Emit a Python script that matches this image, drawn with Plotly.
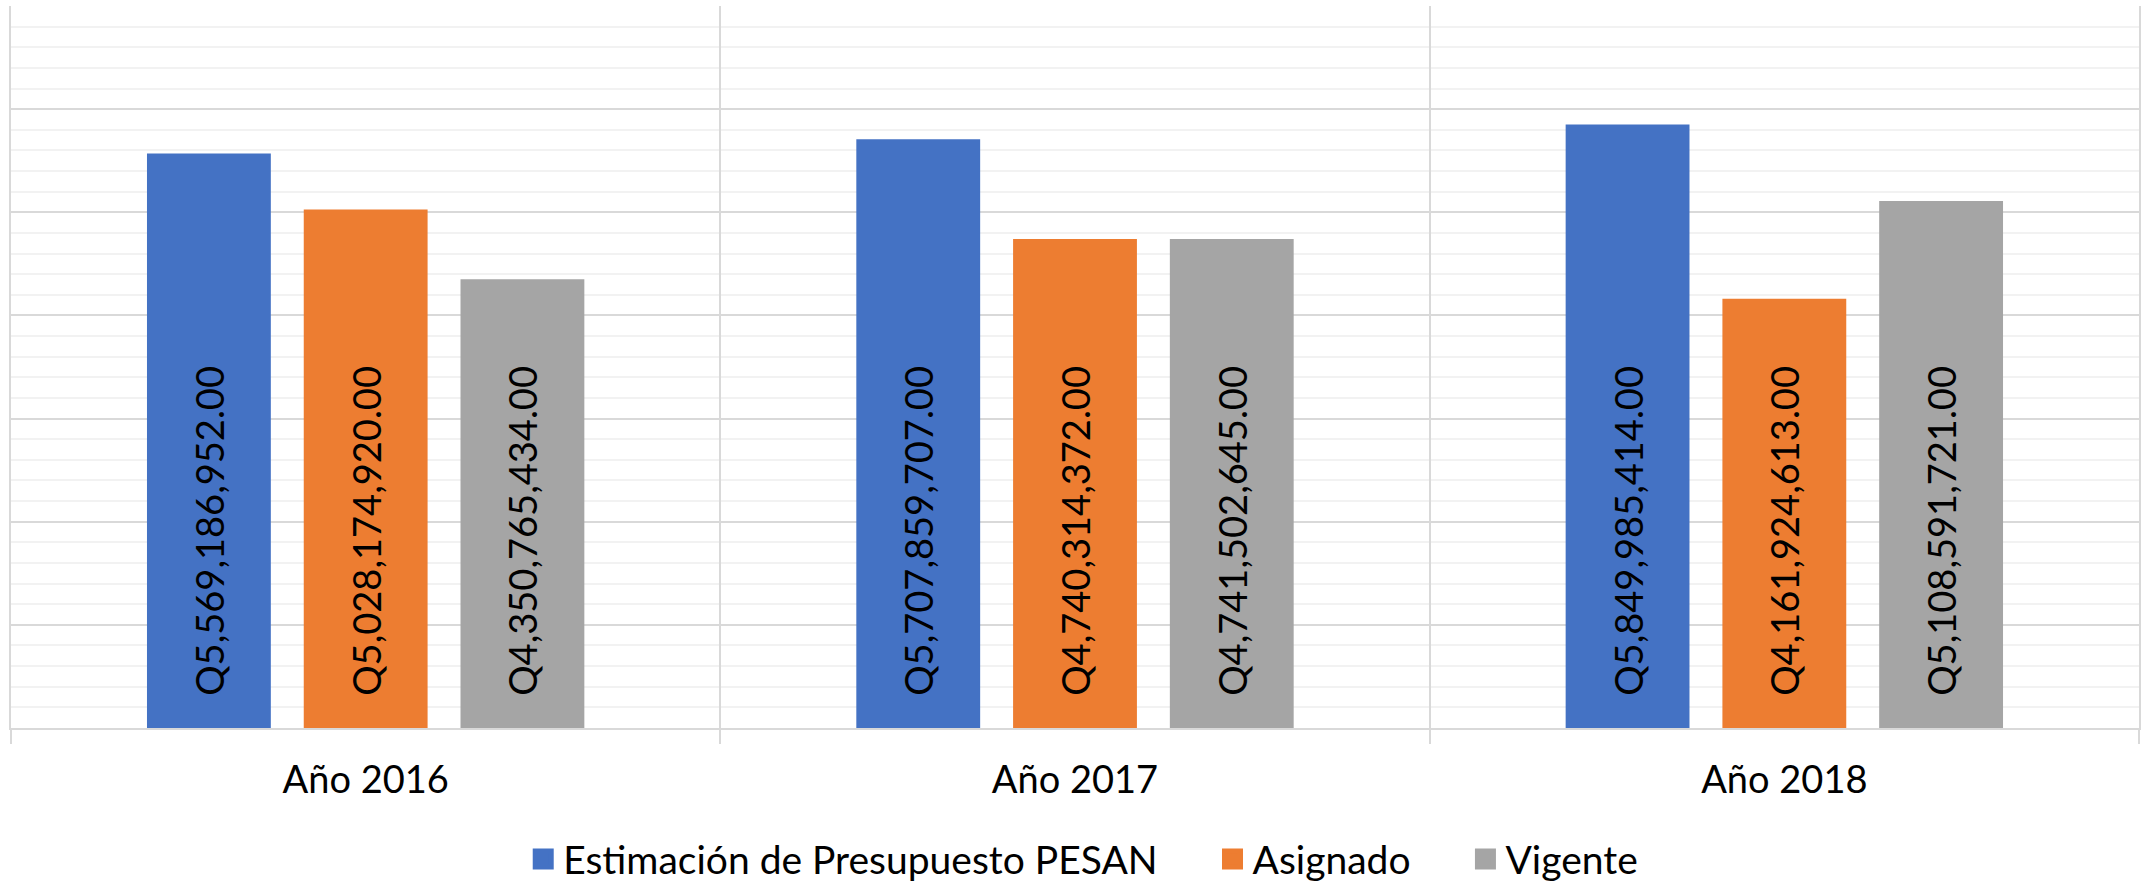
import plotly.graph_objects as go

categories = ["Año 2016", "Año 2017", "Año 2018"]
series_names = ["Estimación de Presupuesto PESAN", "Asignado", "Vigente"]
estimacion = [5569186952.00, 5707859707.00, 5849985414.00]
asignado = [5028174920.00, 4740314372.00, 4161924613.00]
vigente = [4350765434.00, 4741502645.00, 5108591721.00]
colors = ["#4472C4", "#ED7D31", "#A5A5A5"]

FONT = "Lato"
NBSP = "\u00a0"
fig = go.Figure()
for name, vals, col in zip(series_names, [estimacion, asignado, vigente], colors):
    fig.add_trace(go.Bar(
        name=name, x=categories, y=vals, showlegend=False, legendgroup=name,
        marker=dict(color=col, line=dict(width=0)),
        texttemplate=NBSP * 3 + "Q%{y:,.2f}",
        textposition="inside", insidetextanchor="start", textangle=-90,
        textfont=dict(family=FONT, size=38, color="#000000"),
        constraintext="none",
        hoverinfo="skip",
    ))

# legend entries (square swatches like the reference)
for i, (name, col) in enumerate(zip(series_names, colors)):
    pad = NBSP * 5 if i < len(series_names) - 1 else ""
    fig.add_trace(go.Scatter(
        name=name + pad, x=[None], y=[None], mode="markers", legendgroup=name,
        marker=dict(symbol="square", size=16, color=col, line=dict(color=col, width=5)),
        showlegend=True, hoverinfo="skip",
    ))

fig.update_layout(
    width=2145, height=883,
    margin=dict(l=11, r=4, t=6, b=155),
    paper_bgcolor="white", plot_bgcolor="white",
    barmode="group", bargap=0.337, bargroupgap=0.21,
    font=dict(family=FONT, size=38, color="#000000"),
    legend=dict(orientation="h", xref="container", yref="container",
                x=0.505, xanchor="center", y=0.027, yanchor="middle",
                font=dict(family=FONT, size=39, color="#000000"),
                itemsizing="trace", itemwidth=30),
    showlegend=True,
)
fig.update_xaxes(
    showgrid=True, gridcolor="#D9D9D9", gridwidth=1.5,
    tickson="boundaries", ticks="outside", ticklen=14, tickcolor="#D9D9D9", tickwidth=1.5,
    showline=True, linecolor="#D9D9D9", linewidth=2,
    tickfont=dict(family=FONT, size=38, color="#000000"),
    ticklabelstandoff=17,
)
fig.update_yaxes(
    range=[0, 7e9], dtick=1e9, showticklabels=False,
    showgrid=True, gridcolor="#D9D9D9", gridwidth=1.5,
    minor=dict(dtick=2e8, showgrid=True, gridcolor="#F2F2F2", gridwidth=1.5),
    zeroline=False, showline=True, mirror=True, linecolor="#D9D9D9", linewidth=1.5,
    ticks="",
)
fig.write_html("out.html", config={"displayModeBar": False},
               post_script="document.body.style.margin='0';document.body.style.padding='0';")
